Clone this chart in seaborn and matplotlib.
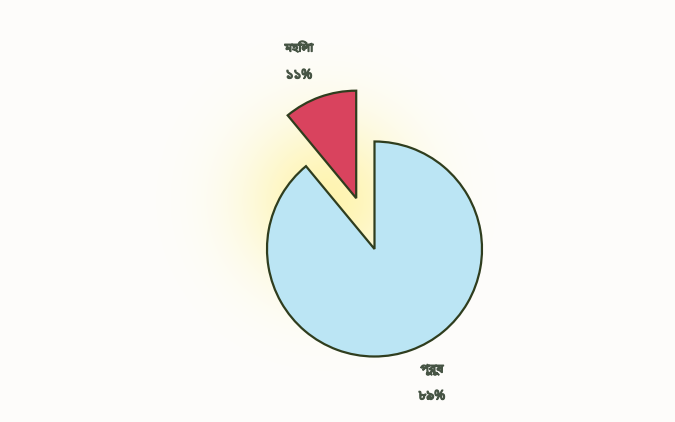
import numpy as np
import matplotlib
matplotlib.use("Agg")
import matplotlib.pyplot as plt
import matplotlib.patheffects as pe
import seaborn as sns
from matplotlib import font_manager
from matplotlib.colors import to_rgb
from fontTools.ttLib import TTFont

# Share of women and men (percent)
labels = ["মহিলা", "পুরুষ"]
shares = [11, 89]
colors = ["#d9435e", "#bbe5f4"]

BN_DIGITS = str.maketrans("0123456789", "০১২৩৪৫৬৭৮৯")


def bengali_family():
    """Pick an installed font that covers Bengali script, preferring Noto Sans."""
    found = []
    for f in font_manager.fontManager.ttflist:
        try:
            tt = TTFont(f.fname, fontNumber=0, lazy=True)
            cmap = tt.getBestCmap()
            if cmap and ord("ম") in cmap and ord("১") in cmap:
                found.append(f.name)
        except Exception:
            continue
    if not found:
        return None

    def rank(name):
        n = name.lower()
        if "noto sans bengali" in n:
            return 0
        if "noto" in n and "serif" not in n:
            return 1
        if "sans" in n:
            return 2
        return 3

    return sorted(set(found), key=rank)[0]


sns.set_theme(style="white")
bn = bengali_family()
families = ([bn] if bn else []) + ["DejaVu Sans"]
plt.rcParams["font.family"] = families

W, H = 675, 422
bg = np.array(to_rgb("#fdfdfb"))
fig = plt.figure(figsize=(W / 100, H / 100), dpi=100, facecolor=bg)
ax = fig.add_axes([0, 0, 1, 1])

# soft yellow halo behind the pie, blended into the page colour
yy, xx = np.mgrid[0:H, 0:W]
d2 = (xx - 326) ** 2 + (yy - 200) ** 2
a = 0.8 * np.exp(-d2 / (2 * 58.0 ** 2))
yellow = np.array([1.0, 0.95, 0.62])
page = bg[None, None, :] * (1 - a[..., None]) + yellow[None, None, :] * a[..., None]
ax.imshow(page, extent=(0, W, 0, H), origin="upper", zorder=0, interpolation="bilinear")

cx, cy, r = 374.5, H - 249, 107.5
wedges, _ = ax.pie(
    shares,
    colors=colors,
    startangle=90,
    counterclock=True,
    explode=[54, 0],
    center=(cx, cy),
    radius=r,
    wedgeprops=dict(edgecolor="#2f3d1e", linewidth=1.6),
    frame=True,
)
for w in wedges:
    w.set_zorder(2)

ax.set_xlim(0, W)
ax.set_ylim(0, H)
ax.set_aspect("equal")
ax.axis("off")

label_pos = [(299, H - 48), (432, H - 369)]
txt_color = "#465444"
heavy = [pe.withStroke(linewidth=0.9, foreground=txt_color)]
for name, val, (lx, ly) in zip(labels, shares, label_pos):
    ax.text(lx, ly, name, ha="center", va="center", fontsize=8.5,
            fontweight="bold", color=txt_color, zorder=3, path_effects=heavy)
    ax.text(lx, ly - 27, f"{val}%".translate(BN_DIGITS), ha="center", va="center",
            fontsize=9.5, fontweight="bold", color=txt_color, zorder=3, path_effects=heavy)

fig.savefig("out.png", dpi=100, facecolor=fig.get_facecolor())
